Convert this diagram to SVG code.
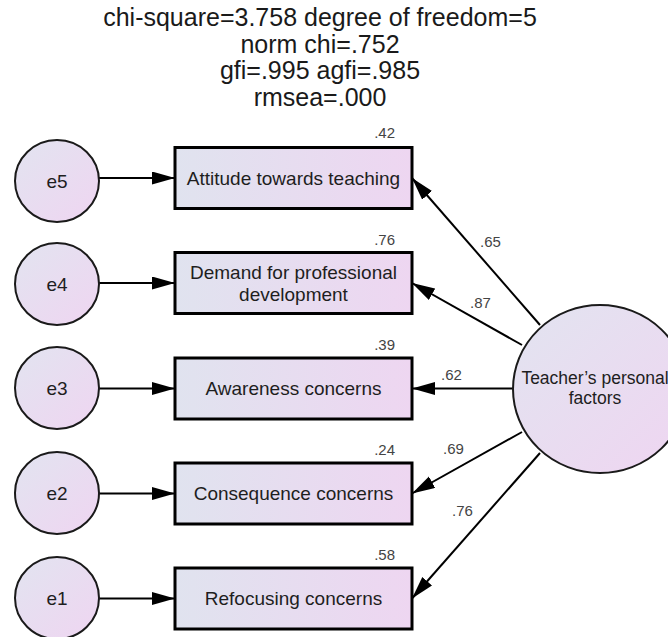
<svg xmlns="http://www.w3.org/2000/svg" width="668" height="637" viewBox="0 0 668 637">
<defs>
<linearGradient id="gBox" x1="0" y1="0" x2="1" y2="0">
<stop offset="0" stop-color="#e0e3ef"/>
<stop offset="1" stop-color="#eed6f1"/>
</linearGradient>
<linearGradient id="gCirc" x1="0" y1="0" x2="1" y2="1">
<stop offset="0" stop-color="#e2e4f0"/>
<stop offset="1" stop-color="#efd5f1"/>
</linearGradient>
<marker id="arr" markerUnits="userSpaceOnUse" markerWidth="24" markerHeight="14" refX="23" refY="6.5" orient="auto">
<path d="M0,0 L23,6.5 L0,13 Z" fill="#000"/>
</marker>
<style>
.box{fill:url(#gBox);stroke:#000;stroke-width:3}
.circ{fill:url(#gCirc);stroke:#1a1a1a;stroke-width:2}
.lbl{font-family:"Liberation Sans",Arial,sans-serif;font-size:19px;fill:#1e1e1e;text-anchor:middle}
.title{font-family:"Liberation Sans",Arial,sans-serif;font-size:25px;fill:#1a1a1a;text-anchor:middle}
.num{font-family:"Liberation Sans",Arial,sans-serif;font-size:15px;fill:#444}
.r2{text-anchor:end}
.con{stroke:#000;stroke-width:2;fill:none;marker-end:url(#arr)}
</style>
</defs>
<rect width="668" height="637" fill="#fff"/>

<g id="title">
<text class="title" x="320" y="26">chi-square=3.758 degree of freedom=5</text>
<text class="title" x="320" y="52.5">norm chi=.752</text>
<text class="title" x="320" y="79">gfi=.995 agfi=.985</text>
<text class="title" x="320" y="105.5">rmsea=.000</text>
</g>

<g id="connectors">
<line class="con" x1="99" y1="178" x2="175" y2="178"/>
<line class="con" x1="99" y1="283" x2="175" y2="283"/>
<line class="con" x1="99" y1="388.5" x2="175" y2="388.5"/>
<line class="con" x1="99" y1="493.5" x2="175" y2="493.5"/>
<line class="con" x1="99" y1="598.5" x2="175" y2="598.5"/>
<line class="con" x1="540" y1="325" x2="412" y2="178"/>
<line class="con" x1="522" y1="345" x2="412" y2="283"/>
<line class="con" x1="513" y1="388.5" x2="412" y2="388.5"/>
<line class="con" x1="522" y1="432" x2="412" y2="493.5"/>
<line class="con" x1="540" y1="453" x2="412" y2="598.5"/>
</g>

<g id="e5"><ellipse class="circ" cx="57" cy="181" rx="42" ry="41"/><text class="lbl" x="57" y="187.5">e5</text></g>
<g id="e4"><ellipse class="circ" cx="57" cy="284" rx="42" ry="41"/><text class="lbl" x="57" y="290.5">e4</text></g>
<g id="e3"><ellipse class="circ" cx="57" cy="388" rx="42" ry="41"/><text class="lbl" x="57" y="394.5">e3</text></g>
<g id="e2"><ellipse class="circ" cx="57" cy="493" rx="42" ry="41"/><text class="lbl" x="57" y="499.5">e2</text></g>
<g id="e1"><ellipse class="circ" cx="57" cy="598" rx="42" ry="41"/><text class="lbl" x="57" y="604.5">e1</text></g>

<g id="attitude">
<rect class="box" x="175" y="147.5" width="237" height="61"/>
<text class="lbl" x="293.5" y="184.5">Attitude towards teaching</text>
<text class="num r2" x="395" y="138">.42</text>
</g>
<g id="demand">
<rect class="box" x="175" y="252.5" width="237" height="61"/>
<text class="lbl" x="293.5" y="278.5">Demand for professional</text>
<text class="lbl" x="293.5" y="300.5">development</text>
<text class="num r2" x="395" y="245">.76</text>
</g>
<g id="awareness">
<rect class="box" x="175" y="358" width="237" height="61"/>
<text class="lbl" x="293.5" y="395">Awareness concerns</text>
<text class="num r2" x="395" y="350">.39</text>
</g>
<g id="consequence">
<rect class="box" x="175" y="463" width="237" height="61"/>
<text class="lbl" x="293.5" y="500">Consequence concerns</text>
<text class="num r2" x="395" y="455">.24</text>
</g>
<g id="refocusing">
<rect class="box" x="175" y="568" width="237" height="61"/>
<text class="lbl" x="293.5" y="605">Refocusing concerns</text>
<text class="num r2" x="395" y="560">.58</text>
</g>

<g id="teacher">
<ellipse class="circ" cx="600" cy="389" rx="87" ry="84"/>
<text class="lbl" x="595" y="384" style="font-size:17.5px">Teacher’s personal</text>
<text class="lbl" x="595" y="404" style="font-size:17.5px">factors</text>
</g>

<g id="loadings">
<text class="num" x="480" y="247">.65</text>
<text class="num" x="470" y="308">.87</text>
<text class="num" x="441" y="380">.62</text>
<text class="num" x="443" y="454">.69</text>
<text class="num" x="452" y="516">.76</text>
</g>
</svg>
